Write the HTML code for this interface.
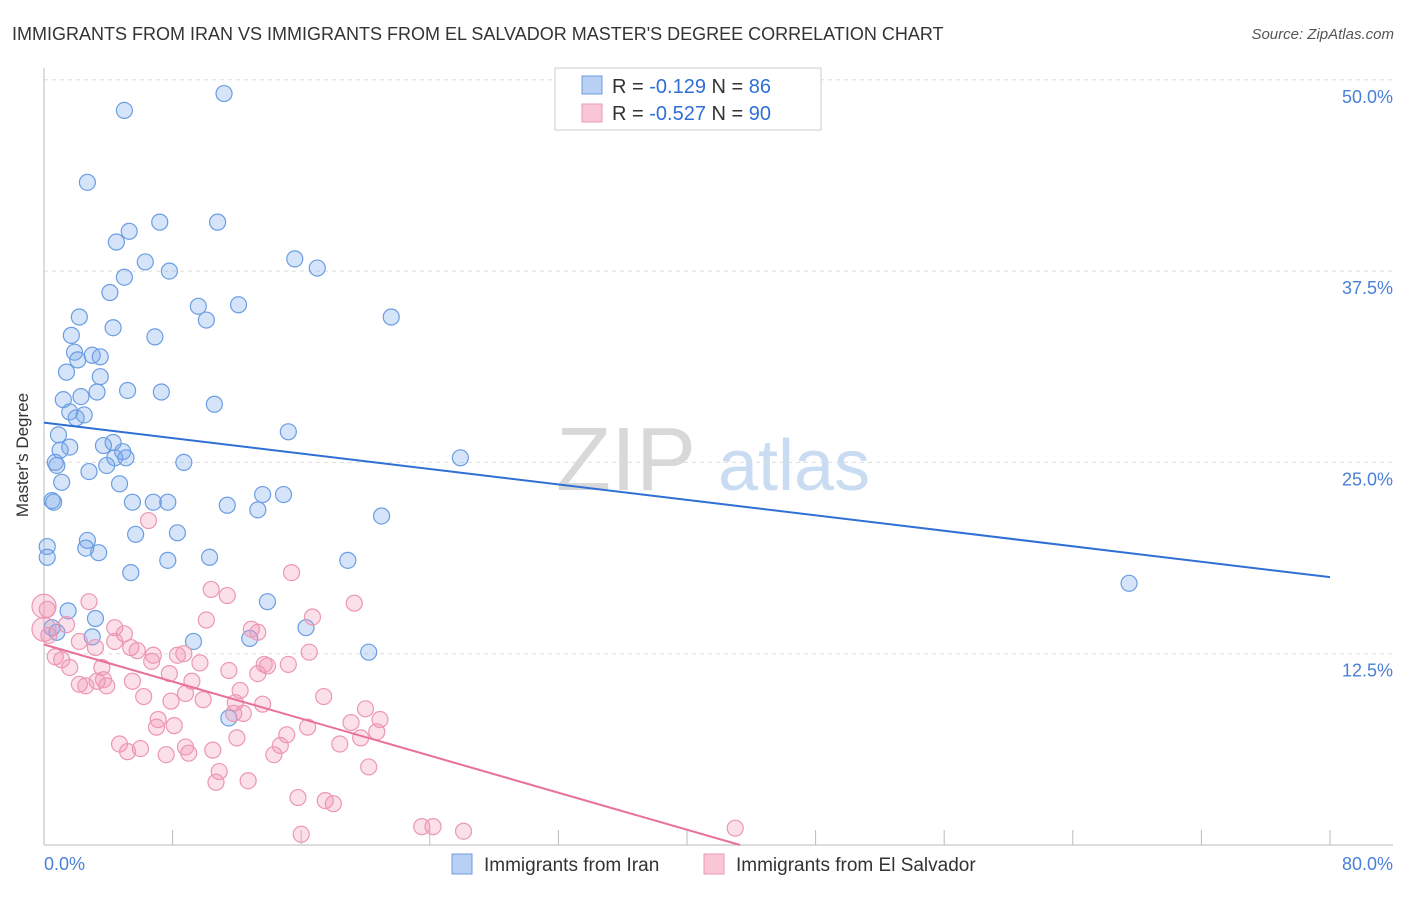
<!DOCTYPE html>
<html><head><meta charset="utf-8"><style>
body{margin:0;background:#fff;font-family:"Liberation Sans",sans-serif}
svg text{font-family:"Liberation Sans",sans-serif}
</style></head><body>
<svg width="1406" height="892" id="c">
<text x="12" y="40" font-size="18" fill="#333">IMMIGRANTS FROM IRAN VS IMMIGRANTS FROM EL SALVADOR MASTER'S DEGREE CORRELATION CHART</text>
<text x="1394" y="39" font-size="15" fill="#555" font-style="italic" text-anchor="end">Source: ZipAtlas.com</text>
<text x="556" y="490" font-size="90" fill="#d8d8d8" font-family="Liberation Serif">ZIP</text>
<text x="718" y="490" font-size="72" fill="#c9dcf2">atlas</text>
<text x="28" y="455" font-size="17" fill="#333" transform="rotate(-90 28 455)" text-anchor="middle">Master's Degree</text>
<g id="grid"></g><g id="pts"></g><g id="lines"></g>
<g>
<rect x="555" y="68" width="266" height="62" fill="#fff" stroke="#ccc"/>
<rect x="582" y="76" width="20" height="18" fill="#b8d0f4" stroke="#6c9be0"/>
<rect x="582" y="104" width="20" height="18" fill="#f9c6d6" stroke="#ec97b4"/>
<text x="612" y="93" font-size="20" fill="#333">R = <tspan fill="#2f6fd6">-0.129</tspan>   N = <tspan fill="#2f6fd6">86</tspan></text>
<text x="612" y="120" font-size="20" fill="#333">R = <tspan fill="#2f6fd6">-0.527</tspan>   N = <tspan fill="#2f6fd6">90</tspan></text>
</g>
<g>
<rect x="452" y="854" width="20" height="20" fill="#b8d0f4" stroke="#6c9be0"/>
<text x="484" y="871" font-size="19" fill="#333">Immigrants from Iran</text>
<rect x="704" y="854" width="20" height="20" fill="#f9c6d6" stroke="#ec97b4"/>
<text x="736" y="871" font-size="19" fill="#333">Immigrants from El Salvador</text>
</g>
</svg>
<script>
const yTicks=[12.5,25.0,37.5,50.0];
const xTickVals=[0,8,16,24,32,40,48,56,64,72,80];
const xLabels=["0.0%","80.0%"];
const blueX=[5.0,11.2,2.7,4.5,5.3,7.2,10.8,6.3,7.8,5.0,4.1,9.6,10.1,12.1,15.6,17.0,21.6,2.2,1.7,4.3,6.9,1.9,2.1,3.0,3.5,1.4,3.5,3.3,5.2,7.3,2.3,1.2,10.6,1.6,2.0,2.5,15.2,0.9,1.6,3.7,4.3,1.0,4.4,4.9,5.1,3.9,0.7,0.8,2.8,8.7,25.9,1.1,4.7,0.5,0.6,5.5,6.8,7.7,11.4,13.3,13.6,14.9,21.0,5.7,8.3,2.7,2.6,3.4,0.2,0.2,10.3,7.7,18.9,5.4,67.5,1.5,13.9,3.2,0.5,0.8,16.3,3.0,9.3,12.8,20.2,11.5];
const blueY=[48.0,49.1,43.3,39.4,40.1,40.7,40.7,38.1,37.5,37.1,36.1,35.2,34.3,35.3,38.3,37.7,34.5,34.5,33.3,33.8,33.2,32.2,31.7,32.0,31.9,30.9,30.6,29.6,29.7,29.6,29.3,29.1,28.8,28.3,27.9,28.1,27.0,26.8,26.0,26.1,26.3,25.8,25.3,25.7,25.3,24.8,25.0,24.8,24.4,25.0,25.3,23.7,23.6,22.5,22.4,22.4,22.4,22.4,22.2,21.9,22.9,22.9,21.5,20.3,20.4,19.9,19.4,19.1,19.5,18.8,18.8,18.6,18.6,17.8,17.1,15.3,15.9,14.8,14.2,13.9,14.2,13.6,13.3,13.5,12.6,8.3];
const pinkX=[6.5,15.4,10.4,11.4,19.3,2.8,0.2,16.7,10.1,4.4,1.4,12.9,13.3,5.0,0.3,2.2,4.4,3.2,5.4,5.8,8.7,6.8,8.3,16.5,0.7,1.1,6.7,9.7,13.7,13.9,15.2,1.6,3.6,11.5,13.3,3.7,5.5,7.8,9.2,2.2,2.6,3.3,3.9,12.2,8.8,6.2,7.9,9.9,17.4,13.6,11.9,20.0,7.1,11.8,12.4,8.1,20.9,19.1,16.4,7.0,20.7,15.1,19.7,12.0,4.7,14.7,18.4,8.8,6.0,5.2,7.6,10.5,14.3,9.0,20.2,10.9,12.7,10.7,15.8,17.5,18.0,23.5,24.2,26.1,16.0,43.0,0.0,0.0];
const pinkY=[21.2,17.8,16.7,16.3,15.8,15.9,15.4,14.9,14.7,14.2,14.4,14.1,13.9,13.8,13.7,13.3,13.3,12.9,12.9,12.7,12.5,12.4,12.4,12.6,12.3,12.1,12.0,11.9,11.8,11.7,11.8,11.6,11.6,11.4,11.2,10.8,10.7,11.2,10.7,10.5,10.4,10.7,10.4,10.1,9.9,9.7,9.4,9.5,9.7,9.2,9.3,8.9,8.2,8.6,8.6,7.8,8.2,8.0,7.7,7.7,7.4,7.2,7.0,7.0,6.6,6.5,6.6,6.4,6.3,6.1,5.9,6.2,5.9,6.0,5.1,4.8,4.2,4.1,3.1,2.9,2.7,1.2,1.2,0.9,0.7,1.1,15.6,14.1];
const blueLine=[[0,27.6],[80,17.5]];
const pinkLine=[[0,13.1],[43.3,0]];
const X=v=>44+v*(1286/80), Y=v=>845-v*(765.2/50);
const NS="http://www.w3.org/2000/svg";
function mk(t,a,p){const e=document.createElementNS(NS,t);for(const k in a)e.setAttribute(k,a[k]);p.appendChild(e);return e;}
const g=document.getElementById('grid');
yTicks.forEach(t=>{
 const l=mk('line',{x1:44,x2:1393,y1:Y(t),y2:Y(t),stroke:'#ddd','stroke-dasharray':'4,4'},g);
 
 
 const tx=mk('text',{x:1393,y:Y(t)+23,'font-size':18,fill:'#4a80d8','text-anchor':'end'},g);
 tx.textContent=t.toFixed(1)+'%';
 
 
});
const ax=mk('line',{x1:44,x2:1393,y1:845,y2:845,stroke:'#bbb'},g);


const ay=mk('line',{x1:44,x2:44,y1:68,y2:845,stroke:'#bbb'},g);


xTickVals.forEach(t=>{
 const l=mk('line',{x1:X(t),x2:X(t),y1:830,y2:845,stroke:'#bbb'},g);
 
 
});
[[0,'start',44],[80,'end',1393]].forEach((d,i)=>{
 const tx=mk('text',{x:d[2],y:870,'font-size':18,fill:'#4a80d8','text-anchor':d[1]},g);
 tx.textContent=xLabels[i];
 
 
});
const p=document.getElementById('pts');
function pts(xs,ys,fill,stroke,name){xs.forEach((x,i)=>{
 const c=mk('circle',{cx:X(x),cy:Y(ys[i]),r:(x===0?12:8),fill:fill,stroke:stroke,'stroke-width':1.2},p);
 
 
});}
pts(blueX,blueY,'rgba(120,165,235,0.3)','#6a9de2','iran-point');
pts(pinkX,pinkY,'rgba(242,150,182,0.3)','#ec97b4','el-salvador-point');
const L=document.getElementById('lines');
const b=mk('line',{x1:X(blueLine[0][0]),y1:Y(blueLine[0][1]),x2:X(blueLine[1][0]),y2:Y(blueLine[1][1]),stroke:'#2f6fd6','stroke-width':2},L);


const q=mk('line',{x1:X(pinkLine[0][0]),y1:Y(pinkLine[0][1]),x2:X(pinkLine[1][0]),y2:Y(pinkLine[1][1]),stroke:'#e8709a','stroke-width':2},L);


</script>
</body></html>
